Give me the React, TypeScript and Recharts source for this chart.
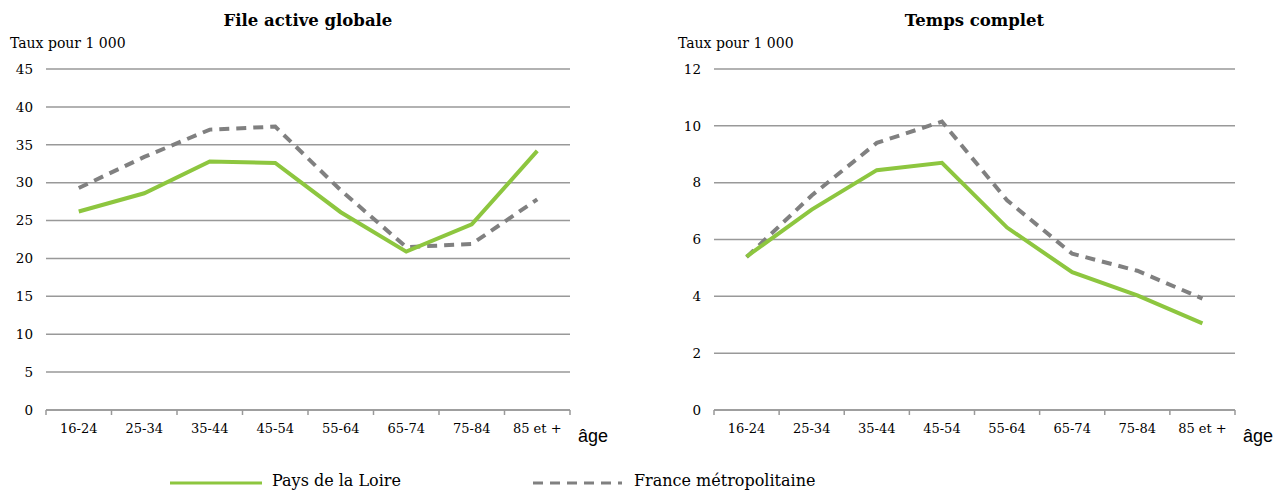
import { LineChart, Line, XAxis, YAxis, CartesianGrid } from "recharts";

const ageGroups = ["16-24", "25-34", "35-44", "45-54", "55-64", "65-74", "75-84", "85 et +"];

const fileActivePdl = [26.2, 28.6, 32.8, 32.6, 26.1, 20.9, 24.5, 34.2];
const fileActiveFrance = [29.3, 33.4, 37.0, 37.4, 29.0, 21.5, 21.9, 27.8];

const tempsCompletPdl = [5.4, 7.05, 8.44, 8.7, 6.42, 4.85, 4.03, 3.05];
const tempsCompletFrance = [5.38, 7.55, 9.4, 10.15, 7.38, 5.5, 4.9, 3.92];

const fileActiveTicks = [0, 5, 10, 15, 20, 25, 30, 35, 40, 45];
const tempsCompletTicks = [0, 2, 4, 6, 8, 10, 12];

const GREEN = "#8dc63f";
const GRAY = "#808080";
const GRID = "#999999";
const FONT = "'DejaVu Serif', serif";
const TICK_MARGIN = 14;

const buildRows = (pdl: number[], france: number[]) =>
  ageGroups.map((age, i) => ({ age, pdl: pdl[i], france: france[i] }));

interface PanelProps {
  title: string;
  pdl: number[];
  france: number[];
  ticks: number[];
  left: number;
  marginLeft: number;
  marginRight: number;
}

// category label plus the little boundary tick marks Excel draws between groups
const makeAgeTick = (band: number) => (props: any) => {
  const { x, y, payload, index, visibleTicksCount } = props;
  const axisY = y - TICK_MARGIN;
  const leftX = x - band / 2;
  const rightX = x + band / 2;
  return (
    <g>
      <line x1={leftX} x2={leftX} y1={axisY} y2={axisY + 5} stroke={GRID} strokeWidth={1.5} />
      {index === visibleTicksCount - 1 && (
        <line x1={rightX} x2={rightX} y1={axisY} y2={axisY + 5} stroke={GRID} strokeWidth={1.5} />
      )}
      <text x={x} y={y} dy="0.71em" textAnchor="middle" fill="#000" fontSize={13} fontFamily={FONT}>
        {payload.value}
      </text>
    </g>
  );
};

const Panel = ({ title, pdl, france, ticks, left, marginLeft, marginRight }: PanelProps) => {
  const data = buildRows(pdl, france);
  const max = ticks[ticks.length - 1];
  const plotLeft = marginLeft + 36;
  const plotWidth = 640 - plotLeft - marginRight;
  const AgeTick = makeAgeTick(plotWidth / ageGroups.length);
  return (
    <div style={{ position: "absolute", left, top: 0, width: 640, height: 450 }}>
      <LineChart
        width={640}
        height={450}
        data={data}
        margin={{ top: 69, right: marginRight, bottom: 10, left: marginLeft }}
      >
        <CartesianGrid vertical={false} stroke={GRID} strokeWidth={1.5} />
        <XAxis
          dataKey="age"
          scale="band"
          height={30}
          stroke={GRID}
          strokeWidth={1.5}
          tickLine={false}
          tickSize={0}
          tickMargin={TICK_MARGIN}
          interval={0}
          tick={AgeTick}
        />
        <YAxis
          width={36}
          domain={[0, max]}
          ticks={ticks}
          axisLine={false}
          tickLine={false}
          tickSize={0}
          tickMargin={13}
          tick={{ fill: "#000", fontSize: 13.5, fontFamily: FONT }}
        />
        <Line
          dataKey="france"
          stroke={GRAY}
          strokeWidth={4}
          strokeDasharray="10 7"
          dot={false}
          isAnimationActive={false}
        />
        <Line
          dataKey="pdl"
          stroke={GREEN}
          strokeWidth={4}
          dot={false}
          isAnimationActive={false}
        />
      </LineChart>
      <div
        style={{
          position: "absolute",
          left: plotLeft,
          width: plotWidth,
          top: 11,
          textAlign: "center",
          fontFamily: FONT,
          fontWeight: "bold",
          fontSize: 16.5,
        }}
      >
        {title}
      </div>
      <div
        style={{
          position: "absolute",
          left: plotLeft - 36,
          top: 35,
          fontFamily: FONT,
          fontSize: 14,
          whiteSpace: "nowrap",
        }}
      >
        Taux pour 1 000
      </div>
      <div
        style={{
          position: "absolute",
          left: plotLeft + plotWidth + 8,
          top: 426,
          fontFamily: "'Liberation Sans', Arial, sans-serif",
          fontSize: 18,
        }}
      >
        âge
      </div>
    </div>
  );
};

export default function App() {
  return (
    <div
      style={{
        position: "absolute",
        left: 0,
        top: 0,
        width: 1283,
        height: 490,
        background: "#fff",
        overflow: "hidden",
      }}
    >
      <Panel
        title="File active globale"
        pdl={fileActivePdl}
        france={fileActiveFrance}
        ticks={fileActiveTicks}
        left={0}
        marginLeft={10}
        marginRight={70}
      />
      <Panel
        title="Temps complet"
        pdl={tempsCompletPdl}
        france={tempsCompletFrance}
        ticks={tempsCompletTicks}
        left={640}
        marginLeft={38}
        marginRight={45}
      />
      <svg width={1283} height={22} style={{ position: "absolute", left: 0, top: 468 }}>
        <line x1={170} x2={262} y1={15} y2={15} stroke={GREEN} strokeWidth={3} />
        <line
          x1={533}
          x2={622}
          y1={15}
          y2={15}
          stroke={GRAY}
          strokeWidth={3}
          strokeDasharray="10 7"
        />
        <text x={272} y={18} fontFamily={FONT} fontSize={16} fill="#000">
          Pays de la Loire
        </text>
        <text x={634} y={18} fontFamily={FONT} fontSize={16} fill="#000">
          France métropolitaine
        </text>
      </svg>
    </div>
  );
}
